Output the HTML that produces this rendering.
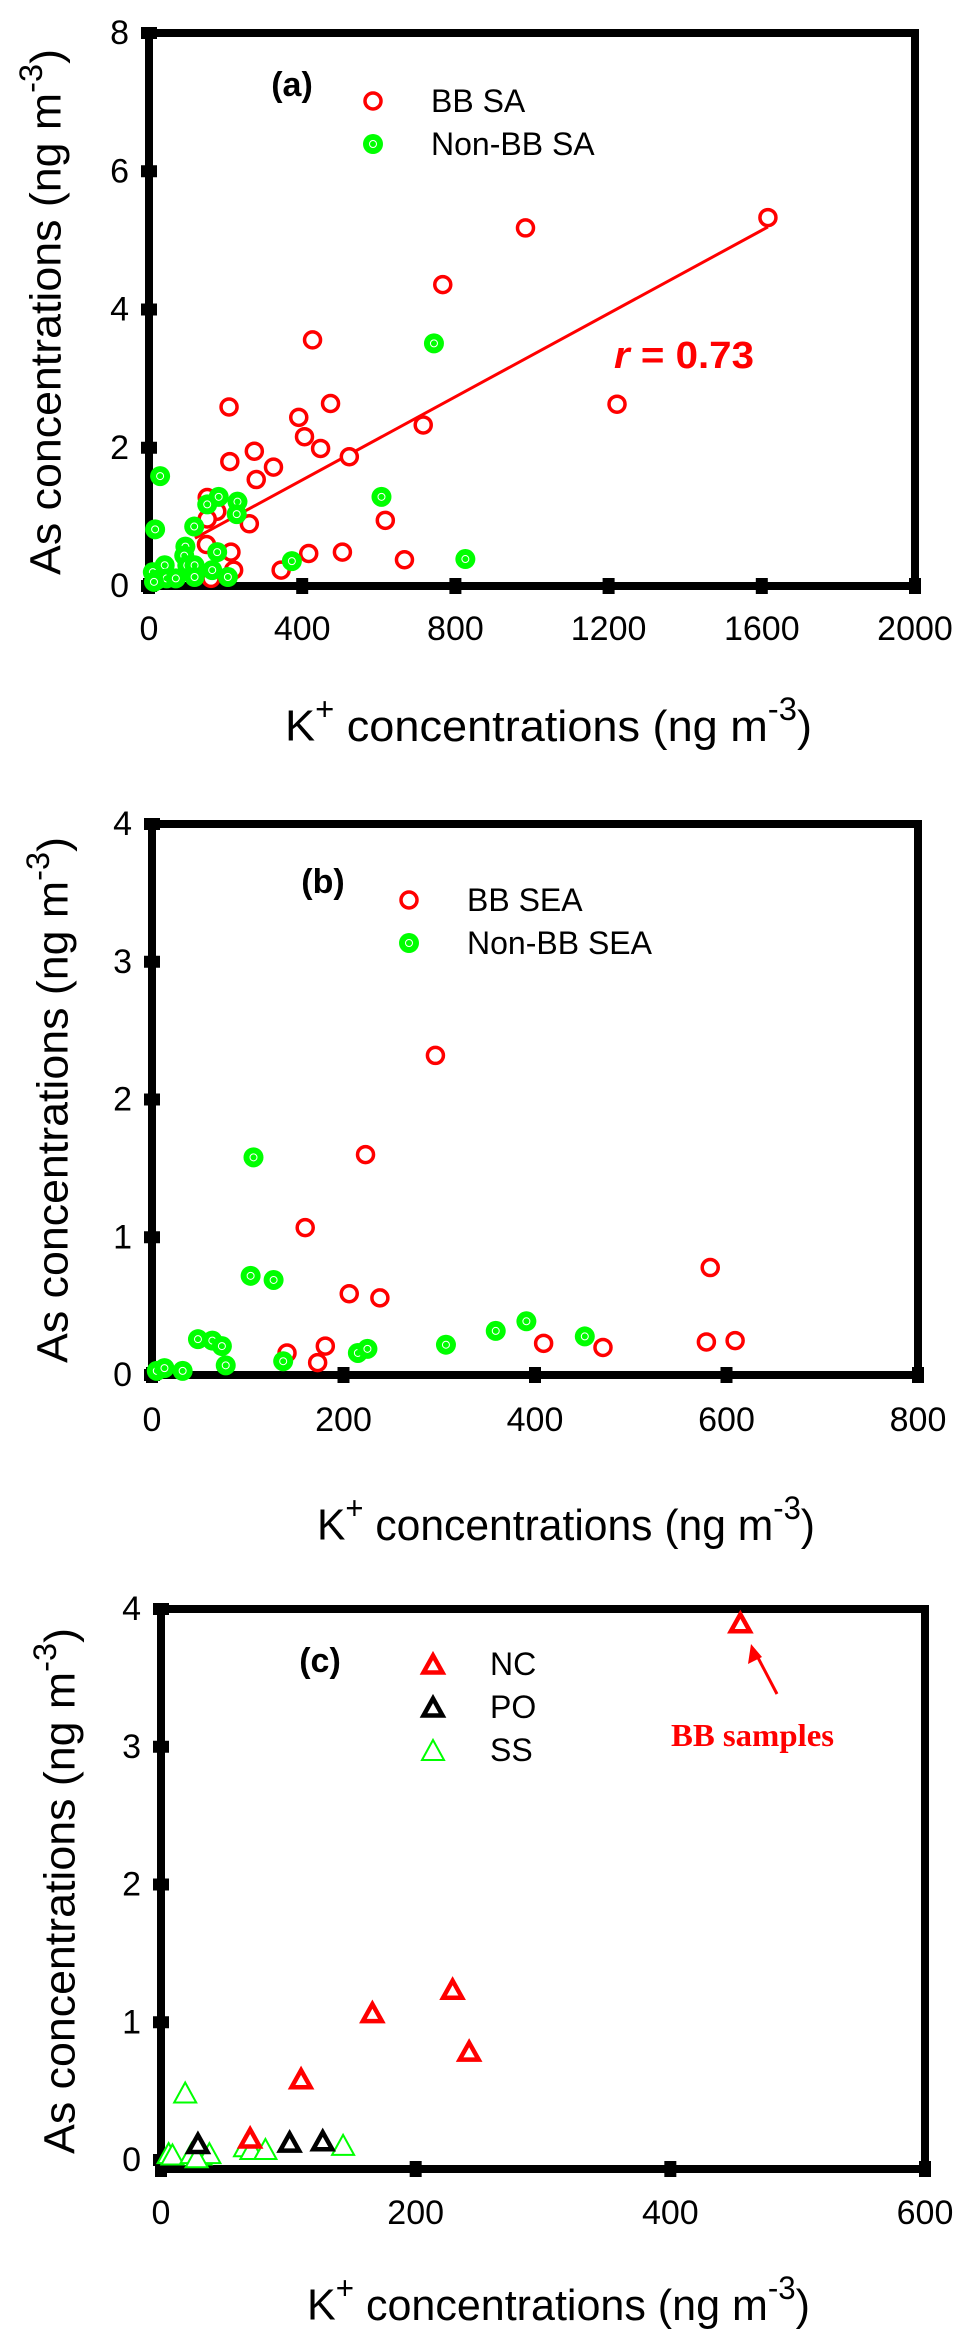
<!DOCTYPE html>
<html><head><meta charset="utf-8"><style>
html,body{margin:0;padding:0;background:#fff;}
svg{display:block;font-family:"Liberation Sans",Arial,sans-serif;}
</style></head><body>
<svg id="fig" width="978" height="2339" viewBox="0 0 978 2339" xmlns="http://www.w3.org/2000/svg"></svg>
<script>
// Panel (a) data
const aBBx=[1616,983,767,427,1222,474,209,391,716,406,448,275,523,211,325,280,152,177,152,262,617,150,214,417,505,667,221,345,162];
const aBBy=[5.33,5.18,4.36,3.56,2.63,2.64,2.59,2.44,2.33,2.16,1.99,1.95,1.87,1.80,1.72,1.54,1.28,1.08,0.97,0.90,0.95,0.60,0.49,0.47,0.49,0.38,0.23,0.23,0.11];
const aNBx=[744,607,826,373,29,16,118,182,152,231,229,178,95,92,100,119,41,10,21,46,70,119,165,206,13];
const aNBy=[3.51,1.29,0.39,0.36,1.59,0.82,0.86,1.29,1.18,1.22,1.04,0.49,0.57,0.44,0.30,0.30,0.30,0.20,0.09,0.11,0.11,0.13,0.23,0.13,0.06];
const aFit=[0.33,0.00301]; const aFitRange=[120,1616];
const aXTicks=[0,400,800,1200,1600,2000]; const aYTicks=[0,2,4,6,8];
// Panel (b) data
const bBBx=[296,223,160,583,206,238,141,181,173,409,471,579,609];
const bBBy=[2.32,1.60,1.07,0.78,0.59,0.56,0.16,0.21,0.09,0.23,0.20,0.24,0.25];
const bNBx=[106,103,127,48,63,73,77,137,215,225,307,359,391,452,5,13,32];
const bNBy=[1.58,0.72,0.69,0.26,0.25,0.21,0.07,0.10,0.16,0.19,0.22,0.32,0.39,0.28,0.03,0.05,0.03];
const bXTicks=[0,200,400,600,800]; const bYTicks=[0,1,2,3,4];
// Panel (c) data
const cNCx=[455,229,166,242,110,70]; const cNCy=[3.90,1.24,1.07,0.79,0.59,0.16];
const cPOx=[101,127,29]; const cPOy=[0.13,0.14,0.12];
const cSSx=[19,143,66,71,82,6,9,24,31,38,28]; const cSSy=[0.49,0.11,0.10,0.08,0.08,0.05,0.04,0.05,0.04,0.05,0.02];
const cXTicks=[0,200,400,600]; const cYTicks=[0,1,2,3,4];

const NS="http://www.w3.org/2000/svg";
const svg=document.getElementById('fig');
function mk(tag,attrs,parent,text){const e=document.createElementNS(NS,tag);for(const k in attrs)e.setAttribute(k,attrs[k]);if(text!==undefined)e.textContent=text;(parent||svg).appendChild(e);return e;}

function panel(p){
  const g=mk('g',{});
  
  
  const sx=v=>p.L+(v-p.x0)/(p.x1-p.x0)*(p.R-p.L);
  const sy=v=>p.B0-(v-p.y0)/(p.y1-p.y0)*(p.B0-p.T);
  const fr=mk('rect',{x:p.L,y:p.T,width:p.R-p.L,height:p.Bx-p.T,fill:'none',stroke:'#000','stroke-width':p.lw},g);
  
  
  p.xt.forEach(t=>{
    const r=mk('rect',{x:sx(t)-6,y:p.Bx-8,width:12,height:16,fill:'#000'},g);
    
    
    const tx=mk('text',{x:sx(t),y:p.xly,'font-size':34,'text-anchor':'middle','dominant-baseline':'central'},g,String(t));
    
    
  });
  p.yt.forEach(t=>{
    const r=mk('rect',{x:p.L-8,y:sy(t)-6,width:16,height:12,fill:'#000'},g);
    
    
    const tx=mk('text',{x:p.L-20,y:sy(t),'font-size':34,'text-anchor':'end','dominant-baseline':'central'},g,String(t));
    
    
  });
  const yt=mk('text',{x:0,y:0,'font-size':44,'text-anchor':'middle','dominant-baseline':'central',transform:`translate(${p.ytx},${p.yty}) rotate(-90)`,textLength:526,lengthAdjust:'spacingAndGlyphs'},g);
  
  
  yt.innerHTML='As concentrations (ng m<tspan dy="-15" font-size="32">-3</tspan><tspan dy="15">)</tspan>';
  const xt=mk('text',{x:p.xtx,y:p.xty,'font-size':44,'dominant-baseline':'central',textLength:p.xtw,lengthAdjust:'spacingAndGlyphs'},g);
  
  
  xt.innerHTML='K<tspan dy="-17" font-size="32">+</tspan><tspan dy="17"> concentrations (ng m</tspan><tspan dy="-17" font-size="32">-3</tspan><tspan dy="17">)</tspan>';
  const lb=mk('text',{x:p.lbx,y:p.lby,'font-size':34,'font-weight':'bold','text-anchor':'middle','dominant-baseline':'central'},g,'('+p.id+')');
  
  
  return {g,sx,sy};
}
function openCircle(g,x,y){return mk('circle',{cx:x,cy:y,r:8,fill:'#fff',stroke:'#f00','stroke-width':3.5},g);}
function greenDot(g,x,y){const gg=mk('g',{},g);mk('circle',{cx:x,cy:y,r:10,fill:'#0f0'},gg);mk('circle',{cx:x,cy:y,r:3.5,fill:'none',stroke:'#fff','stroke-width':1},gg);return gg;}
function tri(g,x,y,col,filled){
  const h=filled?17:20,w=filled?19:22;
  return mk('polygon',{points:`${x},${y-h/2} ${x+w/2},${y+h/2} ${x-w/2},${y+h/2}`,fill:'#fff',stroke:col,'stroke-width':filled?4.5:2,'stroke-linejoin':'miter'},g);
}
function legText(g,x,y,t){const e=mk('text',{x:x,y:y,'font-size':32,'dominant-baseline':'central'},g,t);}

(function(){
  const P=panel({id:'a',L:149,R:915,T:33,Bx:586,B0:586,x0:0,x1:2000,y0:0,y1:8,lw:8,xt:aXTicks,yt:aYTicks,xly:629,ytx:46,yty:312,xtx:285,xty:726,xtw:527,lbx:292,lby:85});
  const g=P.g;
  const fl=mk('line',{x1:P.sx(aFitRange[0]),y1:P.sy(aFit[0]+aFit[1]*aFitRange[0]),x2:P.sx(aFitRange[1]),y2:P.sy(aFit[0]+aFit[1]*aFitRange[1]),stroke:'#f00','stroke-width':3},g);
  
  
  aBBx.forEach((v,i)=>{const c=openCircle(g,P.sx(v),P.sy(aBBy[i]));
    
    });
  aNBx.forEach((v,i)=>{const c=greenDot(g,P.sx(v),P.sy(aNBy[i]));
    
    });
  const r=mk('text',{x:614,y:356,'font-size':38,'font-weight':'bold',fill:'#f00','dominant-baseline':'central',textLength:140,lengthAdjust:'spacingAndGlyphs'},g);
  
  
  r.innerHTML='<tspan font-style="italic">r</tspan> = 0.73';
  const l1=openCircle(g,373,101);  
  legText(g,431,101,'BB SA');
  const l2=greenDot(g,373,144);  
  legText(g,431,144,'Non-BB SA');
})();
(function(){
  const P=panel({id:'b',L:152,R:918,T:824,Bx:1375,B0:1375,x0:0,x1:800,y0:0,y1:4,lw:8,xt:bXTicks,yt:bYTicks,xly:1420,ytx:53,yty:1100,xtx:317,xty:1525,xtw:498,lbx:323,lby:882});
  const g=P.g;
  bBBx.forEach((v,i)=>{const c=openCircle(g,P.sx(v),P.sy(bBBy[i]));
    
    });
  bNBx.forEach((v,i)=>{const c=greenDot(g,P.sx(v),P.sy(bNBy[i]));
    
    });
  const l1=openCircle(g,409,900);  
  legText(g,467,900,'BB SEA');
  const l2=greenDot(g,409,943);  
  legText(g,467,943,'Non-BB SEA');
})();
(function(){
  const P=panel({id:'c',L:161,R:925,T:1609,Bx:2169,B0:2160,x0:0,x1:600,y0:0,y1:4,lw:8,xt:cXTicks,yt:cYTicks,xly:2213,ytx:60,yty:1891,xtx:307,xty:2305,xtw:503,lbx:320,lby:1661});
  const g=P.g;
  cSSx.forEach((v,i)=>{const c=tri(g,P.sx(v),P.sy(cSSy[i]),'#0f0',false);
    
    });
  cPOx.forEach((v,i)=>{const c=tri(g,P.sx(v),P.sy(cPOy[i]),'#000',true);
    
    });
  cNCx.forEach((v,i)=>{const c=tri(g,P.sx(v),P.sy(cNCy[i]),'#f00',true);
    
    });
  const l1=tri(g,433,1664,'#f00',true);  
  legText(g,490,1664,'NC');
  const l2=tri(g,433,1707,'#000',true);  
  legText(g,490,1707,'PO');
  const l3=tri(g,433,1750,'#0f0',false);  
  legText(g,490,1750,'SS');
  const ar=mk('g',{},g);
  
  
  mk('line',{x1:777,y1:1694,x2:754,y2:1650,stroke:'#f00','stroke-width':3},ar);
  mk('polygon',{points:'751,1644 748,1664 762,1657',fill:'#f00'},ar);
  const bb=mk('text',{x:671,y:1735,'font-size':32,'font-weight':'bold',fill:'#f00','font-family':'"Liberation Serif",serif','dominant-baseline':'central',textLength:163,lengthAdjust:'spacingAndGlyphs'},g,'BB samples');
  
  
})();
</script>
</body></html>
